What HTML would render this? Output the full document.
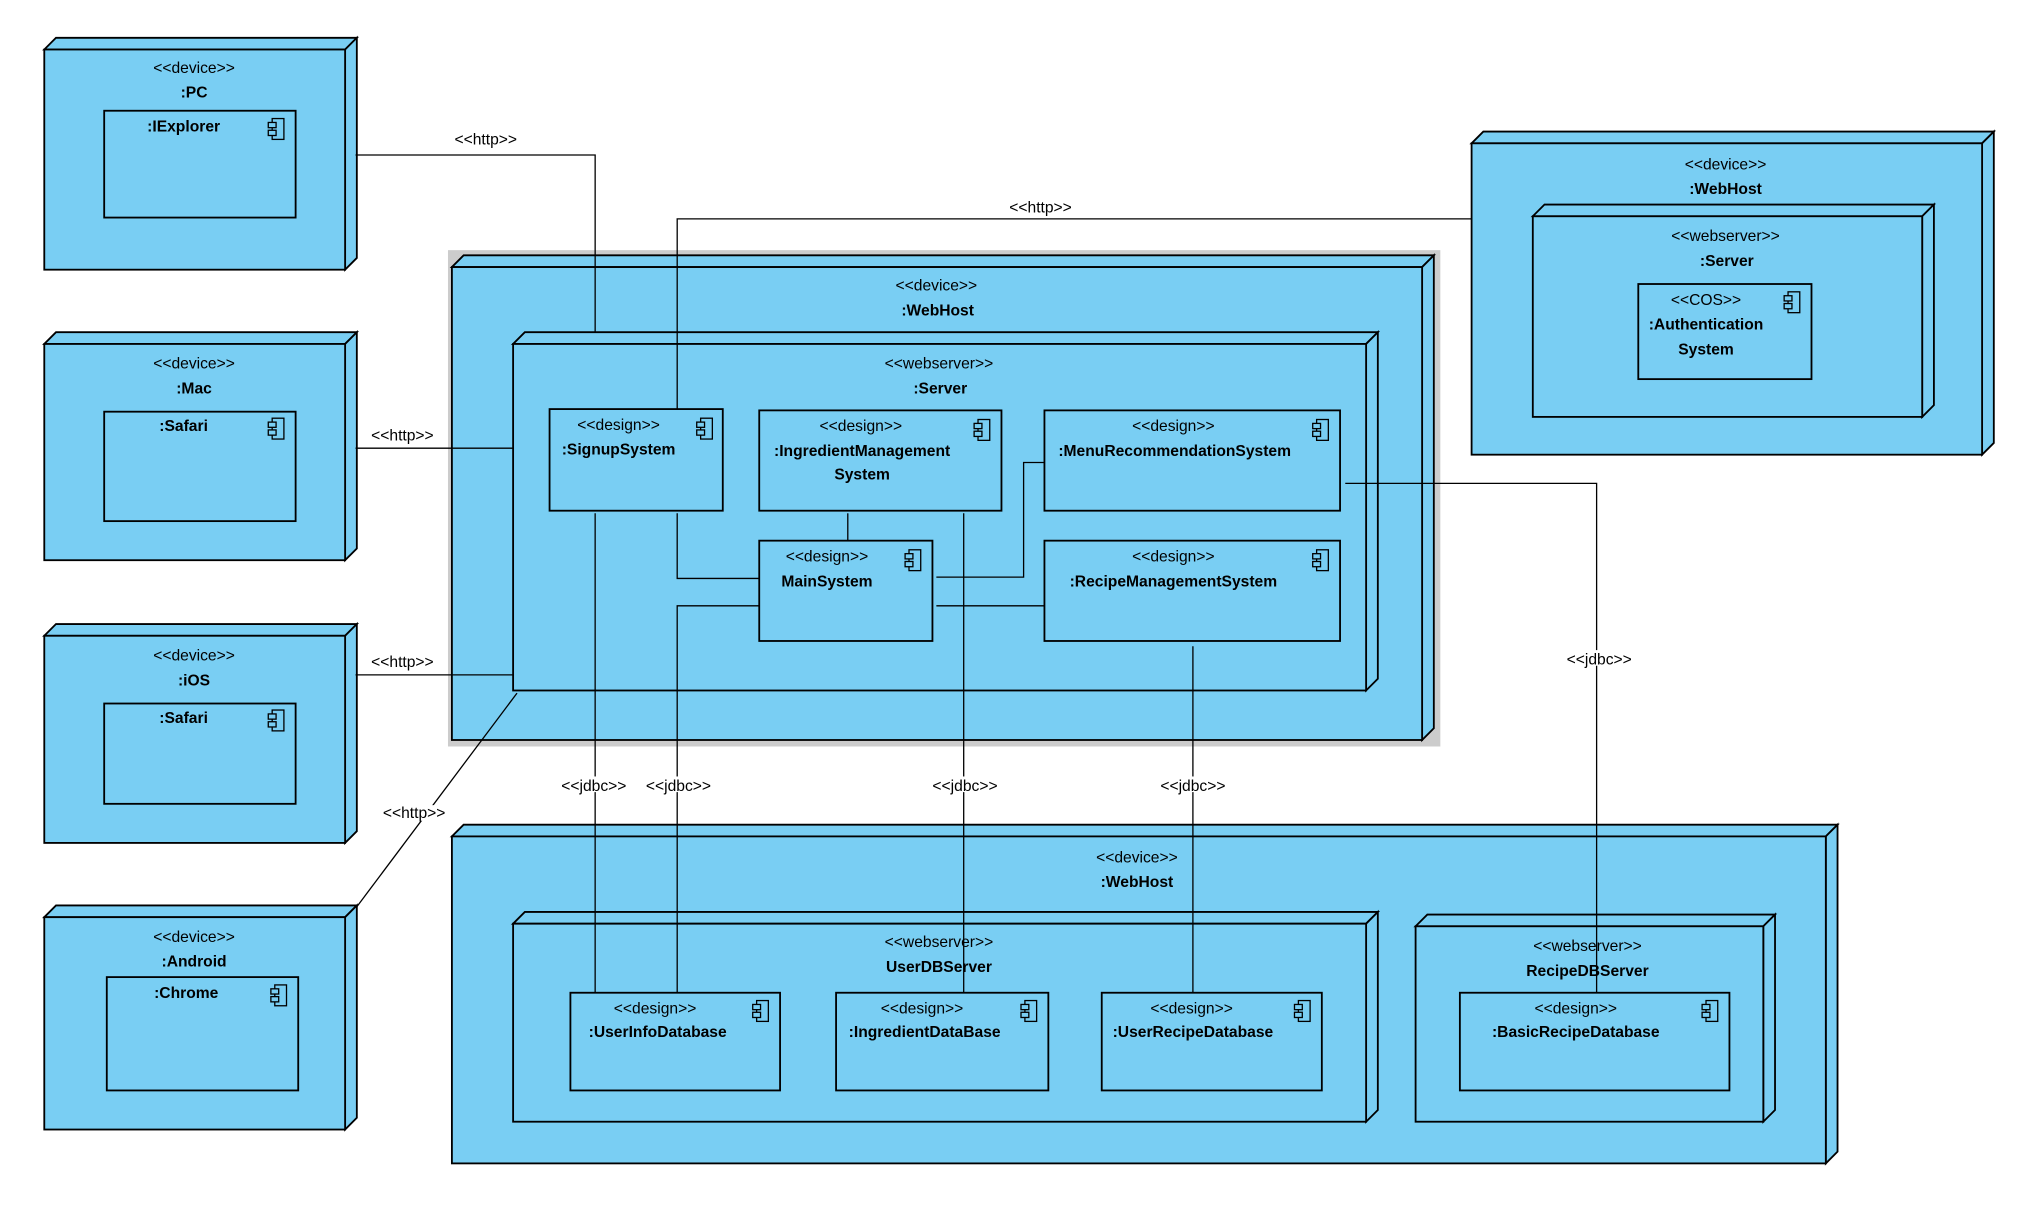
<!DOCTYPE html>
<html><head><meta charset="utf-8"><style>
html,body{margin:0;padding:0;background:#fff;}
svg{display:block;}
text{font-family:"Liberation Sans",Arial,sans-serif;font-size:12px;fill:#000;text-anchor:middle;}
.b{font-weight:bold;}
.n{fill:#79CEF3;stroke:#000;stroke-width:1.4;stroke-linejoin:miter;}
.c{fill:none;stroke:#000;stroke-width:1;}
.i{fill:#79CEF3;stroke:#000;stroke-width:1;}
.lb{fill:#fff;stroke:none;}
</style></head><body>
<svg width="2042" height="1209" viewBox="0 0 1568 928" preserveAspectRatio="none" xmlns="http://www.w3.org/2000/svg">
<!-- PC -->
<polygon class="n" points="34,38 43,29 274,29 265,38"/><polygon class="n" points="265,38 274,29 274,198 265,207"/><rect class="n" x="34" y="38" width="231" height="169"/>
<text x="149" y="56">&lt;&lt;device&gt;&gt;</text><text class="b" x="149" y="75">:PC</text>
<rect class="n" x="80" y="85" width="147" height="82"/><text class="b" x="141" y="101">:IExplorer</text>
<g transform="translate(206,91)"><rect class="i" x="3" y="0" width="9" height="16"/><rect class="i" x="0" y="3" width="6" height="4"/><rect class="i" x="0" y="9" width="6" height="4"/></g>
<!-- Mac -->
<polygon class="n" points="34,264 43,255 274,255 265,264"/><polygon class="n" points="265,264 274,255 274,421 265,430"/><rect class="n" x="34" y="264" width="231" height="166"/>
<text x="149" y="283">&lt;&lt;device&gt;&gt;</text><text class="b" x="149" y="302">:Mac</text>
<rect class="n" x="80" y="316" width="147" height="84"/><text class="b" x="141" y="331">:Safari</text>
<g transform="translate(206,321)"><rect class="i" x="3" y="0" width="9" height="16"/><rect class="i" x="0" y="3" width="6" height="4"/><rect class="i" x="0" y="9" width="6" height="4"/></g>
<!-- iOS -->
<polygon class="n" points="34,488 43,479 274,479 265,488"/><polygon class="n" points="265,488 274,479 274,638 265,647"/><rect class="n" x="34" y="488" width="231" height="159"/>
<text x="149" y="507">&lt;&lt;device&gt;&gt;</text><text class="b" x="149" y="526">:iOS</text>
<rect class="n" x="80" y="540" width="147" height="77"/><text class="b" x="141" y="555">:Safari</text>
<g transform="translate(206,545)"><rect class="i" x="3" y="0" width="9" height="16"/><rect class="i" x="0" y="3" width="6" height="4"/><rect class="i" x="0" y="9" width="6" height="4"/></g>
<!-- Android -->
<polygon class="n" points="34,704 43,695 274,695 265,704"/><polygon class="n" points="265,704 274,695 274,858 265,867"/><rect class="n" x="34" y="704" width="231" height="163"/>
<text x="149" y="723">&lt;&lt;device&gt;&gt;</text><text class="b" x="149" y="742">:Android</text>
<rect class="n" x="82" y="750" width="147" height="87"/><text class="b" x="143" y="766">:Chrome</text>
<g transform="translate(208,756)"><rect class="i" x="3" y="0" width="9" height="16"/><rect class="i" x="0" y="3" width="6" height="4"/><rect class="i" x="0" y="9" width="6" height="4"/></g>

<!-- Main WebHost -->
<rect x="344" y="192" width="762" height="381" fill="#cccccc"/>
<polygon class="n" points="347,205 356,196 1101,196 1092,205"/><polygon class="n" points="1092,205 1101,196 1101,559 1092,568"/><rect class="n" x="347" y="205" width="745" height="363"/>
<text x="719" y="223">&lt;&lt;device&gt;&gt;</text><text class="b" x="720" y="242">:WebHost</text>
<polygon class="n" points="394,264 403,255 1058,255 1049,264"/><polygon class="n" points="1049,264 1058,255 1058,521 1049,530"/><rect class="n" x="394" y="264" width="655" height="266"/>
<text x="721" y="283">&lt;&lt;webserver&gt;&gt;</text><text class="b" x="722" y="302">:Server</text>
<rect class="n" x="422" y="314" width="133" height="78"/><text x="475" y="330">&lt;&lt;design&gt;&gt;</text><text class="b" x="475" y="349">:SignupSystem</text>
<g transform="translate(535,321)"><rect class="i" x="3" y="0" width="9" height="16"/><rect class="i" x="0" y="3" width="6" height="4"/><rect class="i" x="0" y="9" width="6" height="4"/></g>
<rect class="n" x="583" y="315" width="186" height="77"/><text x="661" y="331">&lt;&lt;design&gt;&gt;</text><text class="b" x="662" y="350">:IngredientManagement</text><text class="b" x="662" y="368">System</text>
<g transform="translate(748,322)"><rect class="i" x="3" y="0" width="9" height="16"/><rect class="i" x="0" y="3" width="6" height="4"/><rect class="i" x="0" y="9" width="6" height="4"/></g>
<rect class="n" x="802" y="315" width="227" height="77"/><text x="901" y="331">&lt;&lt;design&gt;&gt;</text><text class="b" x="902" y="350">:MenuRecommendationSystem</text>
<g transform="translate(1008,322)"><rect class="i" x="3" y="0" width="9" height="16"/><rect class="i" x="0" y="3" width="6" height="4"/><rect class="i" x="0" y="9" width="6" height="4"/></g>
<rect class="n" x="583" y="415" width="133" height="77"/><text x="635" y="431">&lt;&lt;design&gt;&gt;</text><text class="b" x="635" y="450">MainSystem</text>
<g transform="translate(695,422)"><rect class="i" x="3" y="0" width="9" height="16"/><rect class="i" x="0" y="3" width="6" height="4"/><rect class="i" x="0" y="9" width="6" height="4"/></g>
<rect class="n" x="802" y="415" width="227" height="77"/><text x="901" y="431">&lt;&lt;design&gt;&gt;</text><text class="b" x="901" y="450">:RecipeManagementSystem</text>
<g transform="translate(1008,422)"><rect class="i" x="3" y="0" width="9" height="16"/><rect class="i" x="0" y="3" width="6" height="4"/><rect class="i" x="0" y="9" width="6" height="4"/></g>

<!-- Right WebHost -->
<polygon class="n" points="1130,110 1139,101 1531,101 1522,110"/><polygon class="n" points="1522,110 1531,101 1531,340 1522,349"/><rect class="n" x="1130" y="110" width="392" height="239"/>
<text x="1325" y="130">&lt;&lt;device&gt;&gt;</text><text class="b" x="1325" y="149">:WebHost</text>
<polygon class="n" points="1177,166 1186,157 1485,157 1476,166"/><polygon class="n" points="1476,166 1485,157 1485,311 1476,320"/><rect class="n" x="1177" y="166" width="299" height="154"/>
<text x="1325" y="185">&lt;&lt;webserver&gt;&gt;</text><text class="b" x="1326" y="204">:Server</text>
<rect class="n" x="1258" y="218" width="133" height="73"/><text x="1310" y="234">&lt;&lt;COS&gt;&gt;</text><text class="b" x="1310" y="253">:Authentication</text><text class="b" x="1310" y="272">System</text>
<g transform="translate(1370,224)"><rect class="i" x="3" y="0" width="9" height="16"/><rect class="i" x="0" y="3" width="6" height="4"/><rect class="i" x="0" y="9" width="6" height="4"/></g>

<!-- Bottom WebHost -->
<polygon class="n" points="347,642 356,633 1411,633 1402,642"/><polygon class="n" points="1402,642 1411,633 1411,884 1402,893"/><rect class="n" x="347" y="642" width="1055" height="251"/>
<text x="873" y="662">&lt;&lt;device&gt;&gt;</text><text class="b" x="873" y="681">:WebHost</text>
<polygon class="n" points="394,709 403,700 1058,700 1049,709"/><polygon class="n" points="1049,709 1058,700 1058,852 1049,861"/><rect class="n" x="394" y="709" width="655" height="152"/>
<text x="721" y="727">&lt;&lt;webserver&gt;&gt;</text><text class="b" x="721" y="746">UserDBServer</text>
<polygon class="n" points="1087,711 1096,702 1363,702 1354,711"/><polygon class="n" points="1354,711 1363,702 1363,852 1354,861"/><rect class="n" x="1087" y="711" width="267" height="150"/>
<text x="1219" y="730">&lt;&lt;webserver&gt;&gt;</text><text class="b" x="1219" y="749">RecipeDBServer</text>
<rect class="n" x="438" y="762" width="161" height="75"/><text x="503" y="778">&lt;&lt;design&gt;&gt;</text><text class="b" x="505" y="796">:UserInfoDatabase</text>
<g transform="translate(578,768)"><rect class="i" x="3" y="0" width="9" height="16"/><rect class="i" x="0" y="3" width="6" height="4"/><rect class="i" x="0" y="9" width="6" height="4"/></g>
<rect class="n" x="642" y="762" width="163" height="75"/><text x="708" y="778">&lt;&lt;design&gt;&gt;</text><text class="b" x="710" y="796">:IngredientDataBase</text>
<g transform="translate(784,768)"><rect class="i" x="3" y="0" width="9" height="16"/><rect class="i" x="0" y="3" width="6" height="4"/><rect class="i" x="0" y="9" width="6" height="4"/></g>
<rect class="n" x="846" y="762" width="169" height="75"/><text x="915" y="778">&lt;&lt;design&gt;&gt;</text><text class="b" x="916" y="796">:UserRecipeDatabase</text>
<g transform="translate(994,768)"><rect class="i" x="3" y="0" width="9" height="16"/><rect class="i" x="0" y="3" width="6" height="4"/><rect class="i" x="0" y="9" width="6" height="4"/></g>
<rect class="n" x="1121" y="762" width="207" height="75"/><text x="1210" y="778">&lt;&lt;design&gt;&gt;</text><text class="b" x="1210" y="796">:BasicRecipeDatabase</text>
<g transform="translate(1307,768)"><rect class="i" x="3" y="0" width="9" height="16"/><rect class="i" x="0" y="3" width="6" height="4"/><rect class="i" x="0" y="9" width="6" height="4"/></g>

<!-- Connectors -->
<polyline class="c" points="273,119 457,119 457,255"/>
<polyline class="c" points="1130,168 520,168 520,314"/>
<line class="c" x1="273" y1="344" x2="394" y2="344"/>
<line class="c" x1="273" y1="518" x2="394" y2="518"/>
<line class="c" x1="274" y1="696" x2="397" y2="532"/>
<line class="c" x1="457" y1="394" x2="457" y2="762"/>
<polyline class="c" points="520,394 520,444 583,444"/>
<polyline class="c" points="583,465 520,465 520,762"/>
<line class="c" x1="651" y1="394" x2="651" y2="415"/>
<line class="c" x1="740" y1="394" x2="740" y2="762"/>
<polyline class="c" points="719,443 786,443 786,355 802,355"/>
<line class="c" x1="719" y1="465" x2="802" y2="465"/>
<line class="c" x1="916" y1="496" x2="916" y2="762"/>
<polyline class="c" points="1033,371 1226,371 1226,762"/>

<!-- connector labels -->
<text x="373" y="111">&lt;&lt;http&gt;&gt;</text>
<rect class="lb" x="772" y="152" width="54" height="11"/><text x="799" y="163">&lt;&lt;http&gt;&gt;</text>
<text x="309" y="338">&lt;&lt;http&gt;&gt;</text>
<text x="309" y="512">&lt;&lt;http&gt;&gt;</text>
<rect class="lb" x="292" y="618" width="53" height="12"/><text x="318" y="628">&lt;&lt;http&gt;&gt;</text>
<rect class="lb" x="430" y="596" width="54" height="12"/><text x="456" y="607">&lt;&lt;jdbc&gt;&gt;</text>
<rect class="lb" x="494" y="596" width="54" height="12"/><text x="521" y="607">&lt;&lt;jdbc&gt;&gt;</text>
<rect class="lb" x="714" y="596" width="54" height="12"/><text x="741" y="607">&lt;&lt;jdbc&gt;&gt;</text>
<rect class="lb" x="889" y="596" width="54" height="12"/><text x="916" y="607">&lt;&lt;jdbc&gt;&gt;</text>
<rect class="lb" x="1201" y="499" width="54" height="12"/><text x="1228" y="510">&lt;&lt;jdbc&gt;&gt;</text>
</svg>
</body></html>
